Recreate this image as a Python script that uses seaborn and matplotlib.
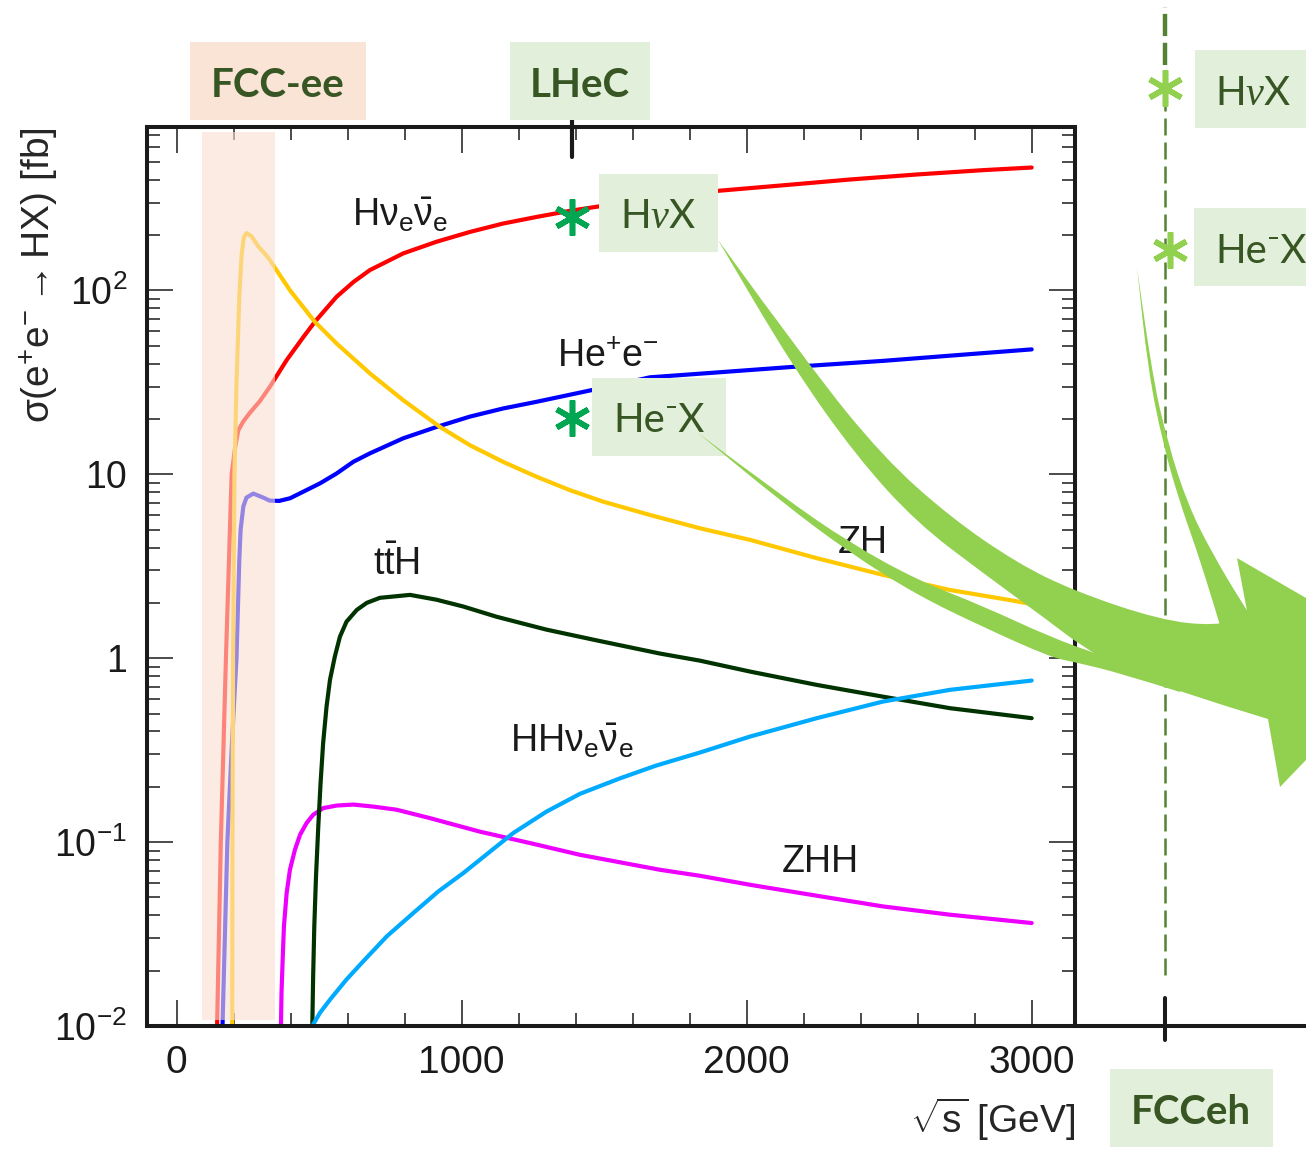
import numpy as np
import pandas as pd
import matplotlib
matplotlib.use('Agg')
import matplotlib.pyplot as plt
import seaborn as sns
from matplotlib.patches import Rectangle, PathPatch
from matplotlib.path import Path
from matplotlib.ticker import MultipleLocator, LogLocator, NullFormatter

# cross sections: sqrt(s) [GeV] vs sigma [fb]
hvv_x = [142, 155, 173, 193, 205, 216, 234, 257, 292, 327, 386, 444, 485, 561, 620, 678, 795, 912,
         1029, 1145, 1263, 1380, 1486, 1700, 1899, 2128, 2362, 2596, 2830, 3000]
hvv_y = [0.01, 0.1, 1, 10, 13.9, 17.3, 19.4, 21.6, 25, 29.9, 41.8, 55.6, 67.5, 92.3, 111, 129, 159, 184,
         208, 231, 251, 271, 287, 318, 348, 373, 401, 427, 451, 466]

hee_x = [161, 178, 193, 210, 220, 224.5, 234, 245, 269, 304, 327, 360, 398, 444, 503, 561, 620, 678, 795,
         912, 1029, 1145, 1263, 1456, 1661, 1895, 2162, 2479, 2772, 3000]
hee_y = [0.01, 0.1, 0.32, 1, 3.46, 4.99, 6.69, 7.47, 7.86, 7.47, 7.19, 7.17, 7.41, 8.04, 8.93, 10.1, 11.7,
         13.0, 15.7, 18.1, 20.6, 22.8, 24.8, 28.7, 33.7, 35.8, 38.4, 41.4, 44.9, 47.8]

zh_x = [195, 196, 198, 203, 210, 220, 228, 236, 245, 263, 286, 321, 398, 485, 561, 678, 795, 924, 1029,
        1145, 1263, 1380, 1497, 1661, 1836, 2012, 2246, 2478, 2713, 2924, 3000]
zh_y = [0.01, 0.1, 1, 10, 31.1, 93.6, 156, 195, 205, 197, 174, 151, 100, 67.5, 51.5, 35.4, 25.3, 18.1,
        14.4, 11.7, 9.70, 8.2, 7.10, 6.01, 5.09, 4.40, 3.50, 2.84, 2.35, 2.07, 1.97]

zhh_x = [366, 368, 372, 376.5, 386, 397.5, 415, 433, 456, 479, 514, 561, 620, 690, 772, 889, 1064, 1240,
         1415, 1696, 1836, 2012, 2246, 2478, 2713, 3000]
zhh_y = [0.01, 0.0151, 0.0229, 0.0348, 0.0528, 0.0707, 0.0908, 0.1096, 0.127, 0.1407, 0.153, 0.158, 0.160,
         0.156, 0.150, 0.135, 0.114, 0.0988, 0.0853, 0.0707, 0.0656, 0.0586, 0.0511, 0.0447, 0.0403, 0.0363]

tth_x = [476, 479, 483, 489, 497, 505, 514, 526, 538, 555, 573, 596, 632, 667, 713, 819, 912, 1006, 1123,
         1298, 1474, 1696, 1836, 2012, 2246, 2478, 2713, 3000]
tth_y = [0.01, 0.0186, 0.0348, 0.0650, 0.1215, 0.209, 0.345, 0.546, 0.762, 1.02, 1.31, 1.58, 1.83, 2.00,
         2.13, 2.21, 2.08, 1.91, 1.68, 1.43, 1.25, 1.06, 0.97, 0.846, 0.716, 0.618, 0.535, 0.472]

hhvv_x = [476, 503, 538, 596, 655, 737, 830, 918, 1006, 1093, 1181, 1298, 1415, 1555, 1680, 1836, 2012,
          2246, 2478, 2713, 3000]
hhvv_y = [0.01, 0.0118, 0.0139, 0.0179, 0.0225, 0.0307, 0.0411, 0.0539, 0.0679, 0.0871, 0.112, 0.1466,
          0.183, 0.222, 0.260, 0.307, 0.375, 0.472, 0.581, 0.673, 0.756]

processes = ['Hvv', 'Hee', 'ZH', 'ZHH', 'ttH', 'HHvv']
colors = {'Hvv': '#ff0000', 'Hee': '#0000ff', 'ZH': '#ffc800',
          'ZHH': '#ee00ff', 'ttH': '#003300', 'HHvv': '#00aaff'}

# ep points (LHeC at 1.3 TeV, FCCeh at 3.5 TeV)
lhec_energy = 1387
lhec_xsec = [250, 20.2]
fcceh_energy = [3468, 3485]
fcceh_xsec = [1250, 166]
fccee_range = (89, 345)

df = pd.concat([
    pd.DataFrame({'energy': hvv_x, 'xsec': hvv_y, 'process': 'Hvv'}),
    pd.DataFrame({'energy': hee_x, 'xsec': hee_y, 'process': 'Hee'}),
    pd.DataFrame({'energy': zh_x, 'xsec': zh_y, 'process': 'ZH'}),
    pd.DataFrame({'energy': zhh_x, 'xsec': zhh_y, 'process': 'ZHH'}),
    pd.DataFrame({'energy': tth_x, 'xsec': tth_y, 'process': 'ttH'}),
    pd.DataFrame({'energy': hhvv_x, 'xsec': hhvv_y, 'process': 'HHvv'}),
])

sns.set_theme(style='ticks')
plt.rcParams['font.family'] = ['Liberation Sans', 'DejaVu Sans']
plt.rcParams['mathtext.fontset'] = 'custom'
plt.rcParams['mathtext.rm'] = 'Liberation Sans'
plt.rcParams['mathtext.it'] = 'Liberation Serif:italic'
plt.rcParams['mathtext.bf'] = 'Liberation Sans:bold'
plt.rcParams['mathtext.default'] = 'regular'

W, H = 1306, 1151
fig = plt.figure(figsize=(W / 100, H / 100), dpi=100)
ax = fig.add_axes([146.7 / W, 125 / H, 928.3 / W, 899 / H])

sns.lineplot(data=df, x='energy', y='xsec', hue='process', hue_order=processes,
             palette=colors, estimator=None, sort=False, linewidth=3,
             legend=False, ax=ax)
ax.set_yscale('log')
ax.set_xlim(-105, 3152)
ax.set_ylim(0.01, 774)

# FCC-ee band washes out the low energy part of the curves
ax.axvspan(*fccee_range, ymin=0.0067, ymax=0.994, color='#fadfcf', alpha=0.6,
           lw=0, zorder=3)

ax.plot([lhec_energy] * 2, lhec_xsec, ls='none', marker=(6, 2, 0), ms=26,
        mew=4, mec='#00a651', zorder=5)
ax.axvline(lhec_energy, ymin=0.967, ymax=1.008, color='k', lw=3, clip_on=False)

ax.set_xticks([0, 1000, 2000, 3000])
ax.xaxis.set_minor_locator(MultipleLocator(200))
ax.set_yticks([0.01, 0.1, 1, 10, 100],
              [r'$10^{-2}$', r'$10^{-1}$', '1', '10', r'$10^{2}$'])
ax.yaxis.set_minor_locator(LogLocator(subs=np.arange(2, 10)))
ax.yaxis.set_minor_formatter(NullFormatter())
ax.tick_params(which='both', direction='in', top=True, right=True, width=1.1, colors='k')
ax.tick_params(which='major', length=19)
ax.tick_params(which='minor', length=9.5)
ax.tick_params(axis='x', labelsize=28, pad=14)
ax.tick_params(axis='y', labelsize=27, pad=14)
for s in ax.spines.values():
    s.set_linewidth(2.9)
    s.set_color('k')

ax.set_xlabel(r'$\sqrt{s}$ [GeV]', fontsize=28, loc='right')
ax.xaxis.set_label_coords(1.0, -0.078)
ax.set_ylabel(r'$\sigma$(e$^{+}$e$^{-}\rightarrow$HX) [fb]', fontsize=28, loc='top')
ax.yaxis.set_label_coords(-0.092, 1.0)

lab = dict(fontsize=27, color='k', va='baseline', ha='left')
ax.text(615, 226, r'H$ν_{e}\bar{ν}_{e}$', **lab)
ax.text(1335, 38.3, r'He$^{+}$e$^{-}$', **lab)
ax.text(2321, 3.74, 'ZH', **lab)
ax.text(689, 2.84, r't$\bar{\mathrm{t}}$H', **lab)
ax.text(1170, 0.31, r'HH$ν_{e}\bar{ν}_{e}$', **lab)
ax.text(2124, 0.0692, 'ZHH', **lab)

# extension of the energy axis out to FCCeh
ax2 = fig.add_axes([1075 / W, 125 / H, 231 / W, 1026 / H])
ax2.set_facecolor('none')
ax2.set_yscale('log')
ax2.set_xlim(3152, 3962)
ax2.set_ylim(0.01, 3784)
for side in ['top', 'left', 'right']:
    ax2.spines[side].set_visible(False)
ax2.spines['bottom'].set_linewidth(2.9)
ax2.spines['bottom'].set_color('k')
ax2.set_xticks([])
ax2.set_yticks([])
ax2.yaxis.set_minor_locator(plt.NullLocator())
ax2.axvline(fcceh_energy[0], ymin=0.05, ymax=0.937, color='#548235', lw=1.8,
            ls=(0, (6.8, 2.8)))
ax2.axvline(fcceh_energy[0], ymin=0.937, ymax=0.993, color='#548235', lw=3.2,
            ls=(0, (5, 1.5)))
ax2.axvline(fcceh_energy[0], ymin=-0.0136, ymax=0.0273, color='k', lw=2.9, clip_on=False)
ax2.plot(fcceh_energy, fcceh_xsec, ls='none', marker=(6, 2, 0), ms=26, mew=4,
         mec='#92d050', zorder=5)

# slide annotations in pixel coordinates
ov = fig.add_axes([0, 0, 1, 1])
ov.set_xlim(0, W)
ov.set_ylim(H, 0)
ov.axis('off')
ov.set_facecolor('none')

dark = '#375623'
boxes = [((190, 42, 176, 78), '#fae4d6'), ((510, 42, 140, 78), '#e2efda'),
         ((599, 174, 119, 78), '#e2efda'), ((592, 378, 134, 78), '#e2efda'),
         ((1195, 50, 120, 78), '#e2efda'), ((1194, 208, 120, 78), '#e2efda'),
         ((1110, 1069, 163, 78), '#e2efda')]
for (x0, y0, w, h), c in boxes:
    ov.add_patch(Rectangle((x0, y0), w, h, color=c, lw=0))

fam = ['Lato', 'DejaVu Sans']
bt = dict(color=dark, fontsize=29, va='baseline', family=fam)
ov.text(278, 97, 'FCC-ee', ha='center', weight='bold', **bt)
ov.text(580, 97, 'LHeC', ha='center', weight='bold', **bt)
ov.text(1191, 1124, 'FCCeh', ha='center', weight='bold', **bt)
ov.text(620, 228, r'H$\mathit{ν}$X', ha='left', **bt)
ov.text(613, 432, 'He⁻X', ha='left', **bt)
ov.text(1215, 105, r'H$\mathit{ν}$X', ha='left', **bt)
ov.text(1215, 263, 'He⁻X', ha='left', **bt)


def edge(pts, smooth=True):
    v, c = [], []
    if smooth:
        for i in range(1, len(pts) - 1):
            m = ((pts[i][0] + pts[i + 1][0]) / 2, (pts[i][1] + pts[i + 1][1]) / 2)
            v += [pts[i], m]
            c += [Path.CURVE3, Path.CURVE3]
        v.append(pts[-1])
        c.append(Path.LINETO)
    else:
        v = list(pts[1:])
        c = [Path.LINETO] * len(v)
    return v, c


def shape(*edges):
    verts = [edges[0][0][0]]
    codes = [Path.MOVETO]
    for pts, sm in edges:
        v, c = edge(pts, sm)
        verts += v
        codes += c
    verts.append(edges[0][0][0])
    codes.append(Path.CLOSEPOLY)
    return Path(verts, codes)


green = '#92d050'
main_arrow = shape(
    ([(718, 240), (810, 367), (883, 457), (950, 517), (1017, 563), (1074, 591),
      (1160, 620), (1216, 626), (1248, 616)], True),
    ([(1248, 616), (1237, 558), (1406, 656), (1280, 787), (1268, 719)], False),
    ([(1268, 719), (1176, 691), (1120, 668), (1080, 645), (1050, 622), (983, 573),
      (917, 523), (857, 457), (793, 367), (718, 240)], True))
hex_arrow = shape(
    ([(698, 433), (783, 497), (850, 543), (917, 580), (983, 606), (1050, 637),
      (1100, 655), (1150, 672), (1180, 682)], True),
    ([(1180, 682), (1180, 692)], False),
    ([(1180, 692), (1120, 673), (1074, 662), (1050, 657), (983, 627), (917, 595),
      (850, 553), (783, 503), (698, 433)], True))
fcceh_arrow = shape(
    ([(1137, 267), (1151, 370), (1168, 444), (1188, 505), (1211, 551), (1240, 600),
      (1255, 622)], True),
    ([(1255, 622), (1222, 632)], False),
    ([(1222, 632), (1214, 605), (1197, 551), (1179, 500), (1163, 444), (1148, 370),
      (1137, 267)], True))
for p in [main_arrow, hex_arrow, fcceh_arrow]:
    ov.add_patch(PathPatch(p, color=green, lw=0))

fig.savefig('out.png', dpi=100)
